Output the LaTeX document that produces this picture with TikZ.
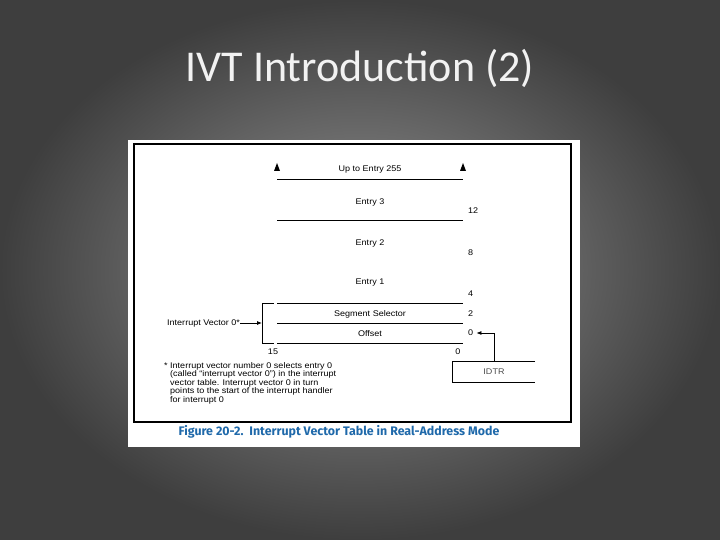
\documentclass[tikz,border=0pt]{standalone}
\usepackage{fontspec}
\setsansfont{Liberation Sans}[FakeStretch=1.1]
\newfontfamily\slidefont{Carlito}
\newfontfamily\figfont{Fira Sans}
\usetikzlibrary{arrows.meta,positioning}
\definecolor{slidegray}{RGB}{150,150,150}
\definecolor{edgegray}{RGB}{62,62,62}
\definecolor{capblue}{RGB}{31,105,170}

\begin{document}
\begin{tikzpicture}[x=1pt,y=-1pt,font=\sffamily\fontsize{8.2}{9}\selectfont,>={Latex[length=5pt,width=4pt]},
lbl/.style={inner sep=0pt},
num/.style={inner sep=0pt,anchor=west},
row/.style={line width=0.8pt}]
\useasboundingbox (0,0) rectangle (720,540);
\shade[inner color=slidegray,outer color=edgegray] (0,0) rectangle (720,540);
\node[text=white!95!black,font=\slidefont\fontsize{44}{48}\selectfont] (title) at (360,68) {IVT Introduction (2)};
\fill[white] (128,140) rectangle (580,447);
\draw[line width=1.2pt] (134,144) rectangle (571,422);
% table rows
\draw[row] (277,179)--(463,179) (277,220)--(463,220) (277,303)--(463,303) (277,323)--(463,323) (277,343)--(463,343);
\draw[row] (274,303)-|(262,343)--(274,343);
\fill (274,171)--(277,163)--(280,171)--cycle (460,171)--(463,163)--(466,171)--cycle;
\node[lbl] (e255) at (370,169) {Up to Entry 255};
\node[lbl] (e3) at (370,202) {Entry 3};
\node[lbl] (e2) at (370,243) {Entry 2};
\node[lbl] (e1) at (370,283) {Entry 1};
\node[lbl] (seg) at (370,314) {Segment Selector};
\node[lbl] (off) at (370,334) {Offset};
\node[num] (twelve) at (468,211) {12};
\node[num] (eight) at (468,253) {8};
\node[num] (four) at (468,294) {4};
\node[num] (two) at (468,314) {2};
\node[num] (zero) at (468,333) {0};
\node[lbl] (bit15) at (273,352) {15};
\node[lbl] (bit0) at (458,352) {0};
% vector 0 pointer
\node[lbl,anchor=west] (ivz) at (167,323) {Interrupt Vector 0*};
\coordinate (brk) at (262,323);
\draw[->,row] (ivz.east)--(brk);
% IDTR
\node[minimum width=82pt,minimum height=20pt,inner sep=0pt,text=black!70] (idtr) at (494,372) {IDTR};
\draw[row] (idtr.north east)--(idtr.north west)--(idtr.south west)--(idtr.south east);
\draw[->,row] (idtr.north)|-([xshift=3pt]zero.east);
% note and caption
\node[anchor=north west,inner sep=0pt,align=left,font=\sffamily\fontsize{8.2}{8.6}\selectfont] (note) at (164,362)
{* Interrupt vector number 0 selects entry 0\\
\phantom{* }(called ``interrupt vector 0'') in the interrupt\\
\phantom{* }vector table. Interrupt vector 0 in turn\\
\phantom{* }points to the start of the interrupt handler\\
\phantom{* }for interrupt 0};
\node[text=capblue,font=\figfont\bfseries\fontsize{12.4}{14}\selectfont] (caption) at (339,432) {Figure 20-2.\ \ Interrupt Vector Table in Real-Address Mode};
\end{tikzpicture}
\end{document}
